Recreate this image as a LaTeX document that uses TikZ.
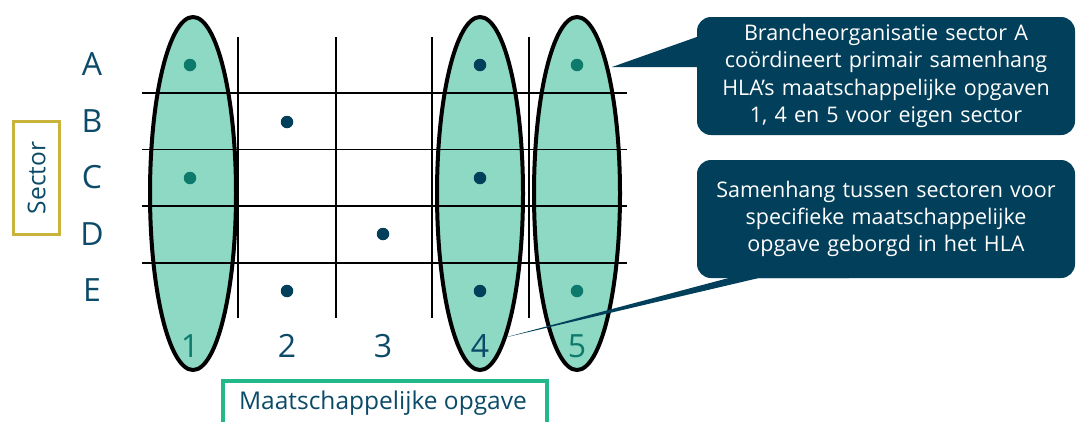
\documentclass[tikz,border=0pt]{standalone}
\usepackage{fontspec}
\setmainfont{Open Sans}
\usetikzlibrary{calc}
\definecolor{navy}{HTML}{0B4A68}
\definecolor{callfill}{HTML}{023F5A}
\definecolor{mint}{HTML}{8DD9C4}
\definecolor{tealdot}{HTML}{0E7A6C}
\definecolor{gold}{HTML}{C8B43A}
\definecolor{green}{HTML}{22B88A}
\tikzset{
  oval/.style={fill=mint},
  ovalline/.style={draw=black,line width=4pt},
  gridline/.style={draw=black,line width=1.5pt},
  dotnavy/.style={circle,fill=callfill,inner sep=0pt,minimum size=12.5pt},
  dotteal/.style={circle,fill=tealdot,inner sep=0pt,minimum size=12.5pt},
  rowlab/.style={text=navy,font=\fontsize{32}{36}\selectfont,inner sep=0pt},
  collab/.style={text=navy,font=\fontsize{32}{36}\selectfont,inner sep=0pt},
  callout/.style={fill=callfill,rounded corners=14pt,text=white,align=center,
    font=\fontsize{21.5}{27.3}\selectfont,inner sep=0pt,text width=376pt,minimum width=378pt},
}
\begin{document}
\begin{tikzpicture}[x=1pt,y=-1pt]
\clip (0,0) rectangle (1076,421);
% ellipses fill
\fill[oval] (193,193.5) ellipse [x radius=43, y radius=176.5];
\fill[oval] (480,193.5) ellipse [x radius=43, y radius=176.5];
\fill[oval] (577,193.5) ellipse [x radius=43, y radius=176.5];
% grid
\foreach \yy in {93,149.5,206,263} \draw[gridline] (142,\yy) -- (627,\yy);
\foreach \xx in {238,336,432,529} \draw[gridline] (\xx,37) -- (\xx,318);
% ellipse outlines
\draw[ovalline] (193,193.5) ellipse [x radius=43, y radius=176.5];
\draw[ovalline] (480,193.5) ellipse [x radius=43, y radius=176.5];
\draw[ovalline] (577,193.5) ellipse [x radius=43, y radius=176.5];
% row labels
\node[rowlab] (rA) at (92,64) {A};
\node[rowlab] (rB) at (92,121) {B};
\node[rowlab] (rC) at (92,177) {C};
\node[rowlab] (rD) at (92,234) {D};
\node[rowlab] (rE) at (92,290) {E};
% column labels
\node[collab,text=tealdot] (c1) at (190,346) {1};
\node[collab] (c2) at (287,346) {2};
\node[collab] (c3) at (383,346) {3};
\node[collab] (c4) at (480,346) {4};
\node[collab,text=tealdot] (c5) at (577,346) {5};
% dots
\node[dotteal] (d1a) at (190,65) {};
\node[dotteal] (d1c) at (190,178) {};
\node[dotnavy] (d2b) at (287,122) {};
\node[dotnavy] (d2e) at (287,291) {};
\node[dotnavy] (d3d) at (383,234) {};
\node[dotnavy] (d4a) at (480,65) {};
\node[dotnavy] (d4c) at (480,178) {};
\node[dotnavy] (d4e) at (480,291) {};
\node[dotteal] (d5a) at (577,65) {};
\node[dotteal] (d5e) at (577,291) {};
% Sector box
\node[draw=gold,line width=3.5pt,minimum width=113pt,minimum height=46pt,rotate=90,
  text=navy,font=\fontsize{24.5}{26}\selectfont,inner sep=0pt] (sector) at (36.5,178) {Sector};
% Maatschappelijke opgave box
\node[draw=green,line width=3.5pt,minimum width=324pt,minimum height=70pt,anchor=north,
  inner sep=0pt] (mo) at (385,379) {};
\node[text=navy,font=\fontsize{24.5}{26}\selectfont,anchor=base,inner sep=0pt] (motext) at (383,409) {Maatschappelijke opgave};
% callouts
\coordinate (tip1) at (612,67);
\coordinate (tip2) at (503,338);
\node[callout,minimum height=118pt] (co1) at (886,76) {Brancheorganisatie sector A\\coördineert primair samenhang\\HLA’s maatschappelijke opgaven\\1, 4 en 5 voor eigen sector};
\node[callout,minimum height=118pt] (co2) at (886,219) {Samenhang tussen sectoren voor\\specifieke maatschappelijke\\opgave geborgd in het HLA};
\fill[callfill] (tip1) -- (co1.west |- 0,37) -- ([xshift=14pt]co1.west |- 0,37) -- ([xshift=14pt]co1.west |- 0,67) -- cycle;
\fill[callfill] (tip2) -- (co2.south west -| 758,0) -- (co2.south west -| 849,0) -- ([yshift=8pt]co2.south west -| 849,0) -- ([yshift=8pt]co2.south west -| 758,0) -- cycle;
\end{tikzpicture}
\end{document}
